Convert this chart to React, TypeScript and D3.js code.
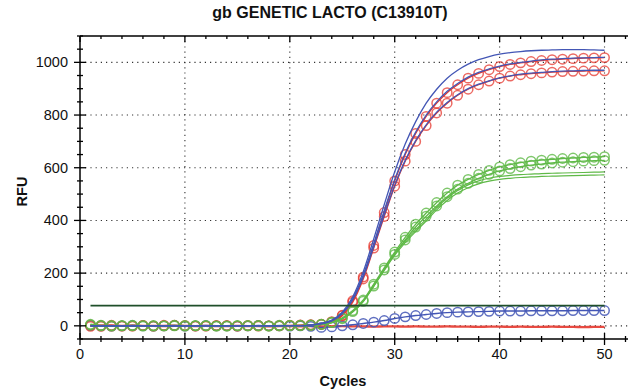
import React from 'react';
import * as d3 from 'd3';

// Amplification data, RFU per cycle (cycles 1..50)
const cycles = [
  1, 2, 3, 4, 5, 6, 7, 8, 9, 10, 11, 12, 13, 14, 15, 16, 17, 18, 19, 20, 21, 22, 23, 24, 25,
  26, 27, 28, 29, 30, 31, 32, 33, 34, 35, 36, 37, 38, 39, 40, 41, 42, 43, 44, 45, 46, 47, 48, 49, 50,
];

const redUpper = [
  3, -2, -1, 0, -1, 1, 0, 2, 1, 0, -1, 0, 1, 0, -1, 0, 1, 0, 1, 2, 3, 4, 6, 16, 40,
  95, 185, 305, 430, 550, 650, 730, 795, 845, 885, 915, 940, 958, 972, 984, 992, 998, 1003, 1007, 1010, 1012, 1014, 1016, 1017, 1018,
];
const redLower = [
  -2, 1, 2, -1, 0, 1, -1, 0, 2, 1, 0, -1, 0, 1, 0, 1, -1, 0, 0, 1, 2, 3, 5, 14, 38,
  90, 178, 295, 415, 530, 625, 700, 760, 808, 845, 875, 898, 915, 929, 940, 948, 953, 957, 960, 963, 965, 966, 967, 968, 968,
];

const blueTop = [
  0, 0, 0, 0, 0, 0, 0, 0, 0, 0, 0, 0, 0, 0, 0, 0, 0, 0, 0, 1, 1, 3, 9, 22, 52,
  110, 205, 330, 460, 585, 690, 775, 845, 898, 940, 970, 993, 1010, 1022, 1031, 1037, 1041, 1044, 1046, 1047, 1048, 1048, 1048, 1047, 1046,
];
const blueMid = [
  0, 0, 0, 0, 0, 0, 0, 0, 0, 0, 0, 0, 0, 0, 0, 0, 0, 0, 0, 1, 1, 3, 8, 20, 48,
  103, 193, 312, 437, 555, 655, 735, 800, 850, 890, 920, 944, 962, 975, 986, 994, 1000, 1005, 1009, 1012, 1014, 1016, 1017, 1018, 1019,
];
const blueLow = [
  0, 0, 0, 0, 0, 0, 0, 0, 0, 0, 0, 0, 0, 0, 0, 0, 0, 0, 0, 1, 1, 3, 8, 19, 46,
  98, 185, 300, 420, 533, 628, 703, 763, 811, 848, 877, 900, 917, 930, 941, 949, 955, 959, 962, 965, 967, 968, 969, 970, 970,
];

const greenA = [
  6, 2, 1, 0, 2, 1, -1, 0, 2, 1, 0, 1, 0, -1, 1, 0, 1, 0, 2, 1, 2, 3, 6, 14, 30,
  58, 98, 158, 220, 280, 336, 386, 428, 468, 504, 534, 556, 575, 590, 603, 612, 619, 625, 629, 632, 635, 637, 639, 640, 642,
];
const greenB = [
  3, 0, -1, 1, 0, -1, 1, 0, 0, -1, 1, 0, -1, 0, 0, 1, 0, -1, 0, 1, 1, 2, 5, 12, 27,
  54, 93, 151, 212, 271, 326, 375, 416, 455, 490, 519, 541, 560, 575, 588, 597, 604, 610, 614, 618, 621, 623, 625, 627, 628,
];
const greenFitA = [
  0, 0, 0, 0, 0, 0, 0, 0, 0, 0, 0, 0, 0, 0, 0, 0, 0, 0, 0, 1, 1, 2, 5, 12, 27,
  54, 95, 155, 216, 276, 322, 365, 405, 448, 485, 514, 535, 550, 560, 567, 571, 574, 576, 578, 579, 580, 581, 582, 583, 584,
];
const greenFitB = [
  0, 0, 0, 0, 0, 0, 0, 0, 0, 0, 0, 0, 0, 0, 0, 0, 0, 0, 0, 1, 1, 2, 5, 12, 26,
  52, 92, 150, 210, 268, 316, 358, 398, 440, 476, 504, 524, 539, 549, 556, 560, 563, 565, 567, 568, 569, 570, 571, 572, 573,
];

const blueDots = [
  1, 0, -1, 0, 1, 0, -1, 0, 1, -1, 0, 1, 0, 0, -1, 0, 1, 0, 0, -1, 0, -2, -6, -4, 0,
  4, 9, 14, 20, 28, 34, 39, 43, 47, 50, 52, 53, 54, 55, 56, 56, 56, 57, 57, 57, 57, 58, 58, 58, 58,
];

const redFlat = [
  2, 1, 1, 0, 1, 0, 0, -1, 0, 0, -1, 0, -1, -1, 0, -1, -1, -2, -1, -1, -2, -1, -2, -2, -1,
  -2, -2, -3, -2, -2, -3, -2, -3, -3, -2, -3, -3, -4, -3, -3, -4, -3, -4, -4, -3, -4, -4, -5, -4, -4,
];

const threshold = 77;

const xTicks = [0, 10, 20, 30, 40, 50];
const yTicks = [0, 200, 400, 600, 800, 1000];

const W = 628;
const H = 392;
const left = 80;
const right = 625.5;
const top = 36;
const bottom = 339;

const RED = '#e5372e';
const BLUE = '#4356b5';
const GREEN = '#5fb947';
const DARK_GREEN = '#1f4f2a';

export default function App() {
  const x = d3.scaleLinear().domain([0, 52]).range([left, right]);
  const y = d3.scaleLinear().domain([-50, 1100]).range([bottom, top]);

  const line = d3
    .line<number>()
    .x((_, i) => x(cycles[i]))
    .y((d) => y(d))
    .curve(d3.curveMonotoneX);

  const xMinor = d3.range(0, 53, 2);
  const yMinor = d3.range(-50, 1101, 50);

  const circles = (vals: number[], color: string, key: string, op = 0.8) =>
    vals.map((v, i) => (
      <circle
        key={key + i}
        cx={x(cycles[i])}
        cy={y(v)}
        r={4.7}
        fill="none"
        stroke={color}
        strokeWidth={1.5}
        opacity={op}
      />
    ));

  const font = 'Liberation Sans, Arial, sans-serif';

  return (
    <svg
      width={W}
      height={H}
      style={{ position: 'absolute', left: 0, top: 0, background: '#fff' }}
      fontFamily={font}
    >
      <defs>
        <clipPath id="plot">
          <rect x={left} y={top} width={W - left} height={bottom - top} />
        </clipPath>
      </defs>

      {/* grid */}
      <g stroke="#333" strokeWidth={1.1} strokeDasharray="1.2,4">
        {xTicks.filter((t) => t > 0).map((t) => (
          <line key={'gx' + t} x1={x(t)} x2={x(t)} y1={top} y2={bottom} />
        ))}
        {yTicks.map((t) => (
          <line key={'gy' + t} x1={left} x2={W} y1={y(t)} y2={y(t)} />
        ))}
      </g>

      <g clipPath="url(#plot)">
        {/* flat red */}
        <path d={line(redFlat) || ''} fill="none" stroke={RED} strokeWidth={2.4} opacity={0.9} />

        {/* low blue */}
        <path d={line(blueDots) || ''} fill="none" stroke={BLUE} strokeWidth={1.4} />
        {circles(blueDots, BLUE, 'bd', 0.85)}

        {/* red samples */}
        <path d={line(redLower) || ''} fill="none" stroke={RED} strokeWidth={1.3} />
        {circles(redLower, RED, 'rl', 0.75)}
        <path d={line(redUpper) || ''} fill="none" stroke={RED} strokeWidth={1.3} />
        {circles(redUpper, RED, 'ru', 0.75)}

        {/* green fits */}
        <path d={line(greenFitA) || ''} fill="none" stroke={GREEN} strokeWidth={1.2} />
        <path d={line(greenFitB) || ''} fill="none" stroke={GREEN} strokeWidth={1.2} />
        {/* green samples */}
        <path d={line(greenB) || ''} fill="none" stroke={GREEN} strokeWidth={1.3} />
        {circles(greenB, GREEN, 'gb')}
        <path d={line(greenA) || ''} fill="none" stroke={GREEN} strokeWidth={1.3} />
        {circles(greenA, GREEN, 'ga')}

        {/* blue fits */}
        <path d={line(blueLow) || ''} fill="none" stroke={BLUE} strokeWidth={1.3} />
        <path d={line(blueMid) || ''} fill="none" stroke={BLUE} strokeWidth={1.3} />
        <path d={line(blueTop) || ''} fill="none" stroke={BLUE} strokeWidth={1.3} />

        {/* threshold */}
        <line
          x1={x(1)}
          x2={x(50)}
          y1={y(threshold)}
          y2={y(threshold)}
          stroke={DARK_GREEN}
          strokeWidth={1.8}
        />
      </g>

      {/* frame */}
      <g stroke="#000" strokeWidth={1.5} fill="none">
        <line x1={left} x2={W} y1={top} y2={top} />
        <line x1={left} x2={W} y1={bottom} y2={bottom} />
        <line x1={left} x2={left} y1={top} y2={bottom} />
      </g>

      {/* ticks */}
      <g stroke="#000" strokeWidth={1.3}>
        {xMinor.map((t) => {
          const major = t % 10 === 0;
          return (
            <g key={'xt' + t}>
              <line x1={x(t)} x2={x(t)} y1={bottom - (major ? 6 : 3)} y2={bottom + (major ? 6 : 3)} />
              <line x1={x(t)} x2={x(t)} y1={top} y2={top + (major ? 6 : 3)} />
            </g>
          );
        })}
        {yMinor.map((t) => {
          const major = t % 200 === 0;
          return (
            <line
              key={'yt' + t}
              x1={left - (major ? 6 : 3)}
              x2={left + (major ? 6 : 3)}
              y1={y(t)}
              y2={y(t)}
            />
          );
        })}
      </g>

      {/* tick labels */}
      <g fontSize={14.5} fill="#111">
        {xTicks.map((t) => (
          <text key={'xl' + t} x={x(t)} y={bottom + 20} textAnchor="middle">
            {t}
          </text>
        ))}
        {yTicks.map((t) => (
          <text key={'yl' + t} x={left - 12} y={y(t) + 5} textAnchor="end">
            {t}
          </text>
        ))}
      </g>

      {/* titles */}
      <text x={330} y={18} textAnchor="middle" fontSize={16} fontWeight="bold" fill="#111">
        gb GENETIC LACTO (C13910T)
      </text>
      <text x={343} y={386} textAnchor="middle" fontSize={14.5} fontWeight="bold" fill="#111">
        Cycles
      </text>
      <text
        transform={`translate(27,${(top + bottom) / 2 + 4}) rotate(-90)`}
        textAnchor="middle"
        fontSize={14.5}
        fontWeight="bold"
        fill="#111"
      >
        RFU
      </text>
    </svg>
  );
}
